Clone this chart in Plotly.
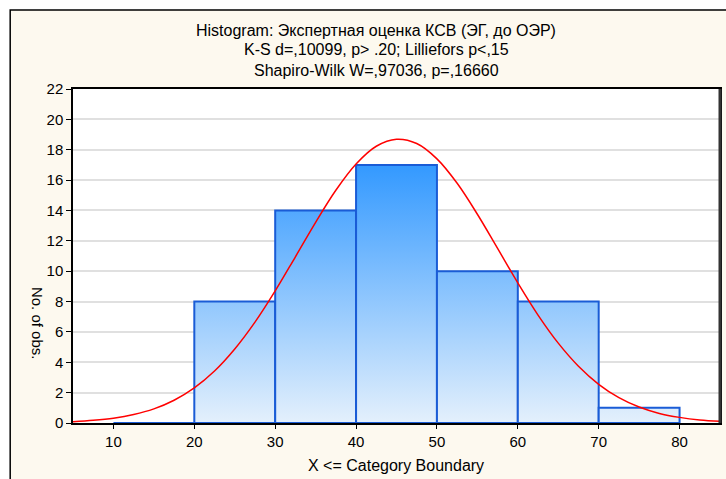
import plotly.graph_objects as go

# ---- data ----
bin_edges = [10, 20, 30, 40, 50, 60, 70, 80]
bin_counts = [0, 8, 14, 17, 10, 8, 1]

curve_x = [5, 7.5, 10, 12.5, 15, 17.5, 20, 22.5, 25, 27.5, 30, 32.5, 35, 37.5, 40,
           42.5, 45, 47.5, 50, 52.5, 55, 57.5, 60, 62.5, 65, 67.5, 70, 72.5, 75,
           77.5, 80, 82.5, 85]
curve_y = [0.09, 0.18, 0.32, 0.56, 0.93, 1.50, 2.31, 3.42, 4.87, 6.64, 8.70, 10.95,
           13.22, 15.33, 17.06, 18.23, 18.69, 18.41, 17.40, 15.79, 13.75, 11.50,
           9.23, 7.11, 5.26, 3.74, 2.55, 1.67, 1.05, 0.63, 0.37, 0.20, 0.11]

y_ticks = [0, 2, 4, 6, 8, 10, 12, 14, 16, 18, 20, 22]
x_ticks = [10, 20, 30, 40, 50, 60, 70, 80]

title_lines = [
    "Histogram: Экспертная оценка КСВ (ЭГ, до ОЭР)",
    "K-S d=,10099, p> .20; Lilliefors p<,15",
    "Shapiro-Wilk W=,97036, p=,16660",
]
x_title = "X <= Category Boundary"
y_title = "No. of obs."

# ---- layout geometry (pixels) ----
W, H = 726, 479
L, R, T, B = 73, 4, 89, 56
PW, PH = W - L - R, H - T - B
FONT = "Liberation Sans, Arial, sans-serif"


def px(x):
    return (x - L) / PW


def py(y):
    return (H - B - y) / PH


fig = go.Figure()

grad_stop = max(bin_counts)
for i, c in enumerate(bin_counts):
    x0, x1 = bin_edges[i], bin_edges[i + 1]
    fig.add_trace(go.Scatter(
        x=[x0, x0, x1, x1, x0], y=[0, c, c, 0, 0],
        mode="lines", fill="toself",
        fillgradient=dict(type="vertical",
                          colorscale=[[0, "#E4F0FC"], [1, "#3399FF"]],
                          start=0, stop=grad_stop),
        line=dict(color="#1A5CD6", width=2),
        hoverinfo="skip", showlegend=False,
    ))

fig.add_trace(go.Scatter(
    x=curve_x, y=curve_y, mode="lines",
    line=dict(color="#FF0000", width=1.5, shape="spline"),
    showlegend=False,
))

annotations = []
for line, ypix in zip(title_lines, [30, 50, 71]):
    annotations.append(dict(text=line, x=px(377), y=py(ypix), xref="paper", yref="paper",
                            xanchor="center", yanchor="middle", showarrow=False,
                            font=dict(family=FONT, size=16, color="#000")))
annotations.append(dict(text=y_title, x=px(38), y=py(323), xref="paper", yref="paper",
                        xanchor="center", yanchor="middle", showarrow=False, textangle=90,
                        font=dict(family=FONT, size=15, color="#000")))
annotations.append(dict(text=x_title, x=px(397), y=py(465), xref="paper", yref="paper",
                        xanchor="center", yanchor="middle", showarrow=False,
                        font=dict(family=FONT, size=16, color="#000")))

shapes = [
    dict(type="rect", xref="paper", yref="paper", x0=px(-5), x1=px(10), y0=py(500), y1=py(-5),
         fillcolor="#FFFFFF", line=dict(width=0)),
    dict(type="rect", xref="paper", yref="paper", x0=px(-5), x1=px(740), y0=py(10), y1=py(-5),
         fillcolor="#FFFFFF", line=dict(width=0)),
    dict(type="rect", xref="paper", yref="paper", x0=px(10), x1=px(760), y0=py(520), y1=py(10),
         fillcolor="rgba(0,0,0,0)", line=dict(color="#000", width=1.5)),
    dict(type="line", xref="paper", yref="paper", x0=1, x1=1, y0=0, y1=1,
         line=dict(color="#333", width=3)),
]

fig.update_layout(
    width=W, height=H,
    margin=dict(l=L, r=R, t=T, b=B),
    paper_bgcolor="#FDF9EF", plot_bgcolor="#FFFFFF",
    font=dict(family=FONT, size=15, color="#000"),
    annotations=annotations, shapes=shapes,
    showlegend=False,
)
fig.update_xaxes(range=[5, 85], tickvals=x_ticks, ticks="outside", ticklen=4,
                 tickcolor="#000", showgrid=False, zeroline=False,
                 showline=True, linecolor="#000", linewidth=1.5, mirror=True,
                 tickfont=dict(family=FONT, size=15))
fig.update_yaxes(range=[0, 22], tickvals=y_ticks, ticks="outside", ticklen=5,
                 tickcolor="#000", showgrid=True, gridcolor="#E0E0E0", gridwidth=2,
                 zeroline=False, showline=True, linecolor="#000", linewidth=1.5,
                 mirror=True, tickfont=dict(family=FONT, size=15))

fig.write_html("out.html")
